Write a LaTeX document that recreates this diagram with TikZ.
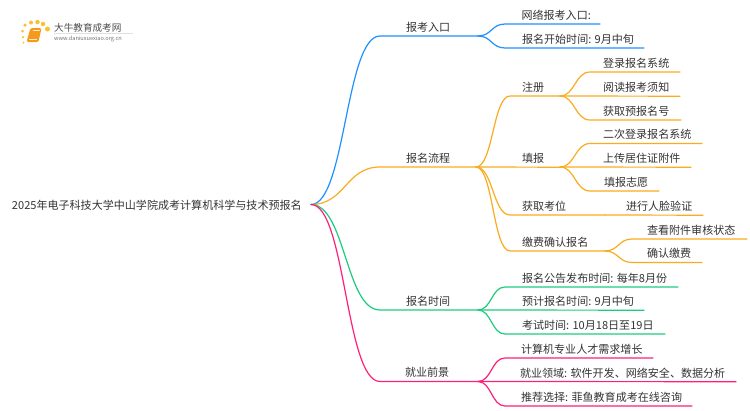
\documentclass[tikz,border=0pt]{standalone}
\usepackage{fontspec}
\usetikzlibrary{calc}
\setmainfont{Noto Sans CJK SC}
\definecolor{cblue}{HTML}{1E90FF}
\definecolor{corange}{HTML}{FAAB20}
\definecolor{cgreen}{HTML}{1DCB7E}
\definecolor{cpink}{HTML}{FF1E78}
\definecolor{ctext}{HTML}{333333}
\definecolor{cdot}{HTML}{FBC02D}
\definecolor{cbook}{HTML}{F59A1B}
\tikzset{
  lab/.style={anchor=west,inner sep=0pt,outer sep=0pt,text=ctext,font=\fontsize{11.05}{13}\selectfont},
  conn/.style={line width=1.2pt,line cap=round},
}
\begin{document}
\begin{tikzpicture}[x=1pt,y=-1pt]
\useasboundingbox (0,0) rectangle (750,410);
% logo
\foreach \n/\p/\s in {a/{25,25}/3.5,b/{31,22.5}/4,c/{37.5,22}/4.5,d/{43,24}/4.5,e/{47.5,29}/5,f/{22.5,31}/3,g/{23,37}/2.5,h/{23.5,42.5}/2}
  \node[circle,fill=cdot,inner sep=0pt,minimum size=\s pt] (logo\n) at (\p) {};
\fill[cbook,rounded corners=1.5pt] (30.5,28) -- (41.5,28) -- (38.5,42) -- (26.5,42) -- cycle;
\draw[white!80!cbook,line width=.5pt] (32.5,30.5) -- (39.5,30.5) (28.5,39.5) -- (36.5,39.5);
\node[inner sep=0pt,anchor=west,text=black!70,font=\fontsize{9.6}{11}\selectfont] (logotitle) at (54,27.5) {大牛教育成考网};
\node[inner sep=0pt,anchor=west,text=black!55,font=\fontsize{5.6}{7}\selectfont] (logourl) at (54,38.5) {www.daniuxuexiao.org.cn};
\draw[black!12,line width=.5pt] (54,33.5) -- (133,33.5);
% text nodes
\node[lab] (root) at (12,205) {2025年电子科技大学中山学院成考计算机科学与技术预报名};
\coordinate (r) at (311,204.5);
\node[lab] (n1) at (406,27) {报考入口};
\node[lab] (n2) at (406,158) {报名流程};
\node[lab] (n3) at (406,301) {报名时间};
\node[lab] (n4) at (405,372.5) {就业前景};
\node[lab] (n11) at (521.5,15) {网络报考入口:};
\node[lab] (n12) at (522,39) {报名开始时间: 9月中旬};
\node[lab] (n21) at (522,87) {注册};
\node[lab] (n22) at (522,158) {填报};
\node[lab] (n23) at (522,206) {获取考位};
\node[lab] (n24) at (522,242) {缴费确认报名};
\node[lab] (n211) at (603,63) {登录报名系统};
\node[lab] (n212) at (603,87) {阅读报考须知};
\node[lab] (n213) at (603,111) {获取预报名号};
\node[lab] (n221) at (603,134.5) {二次登录报名系统};
\node[lab] (n222) at (603,158) {上传居住证附件};
\node[lab] (n223) at (604,182) {填报志愿};
\node[lab] (n231) at (626,206) {进行人脸验证};
\node[lab] (n241) at (647,230) {查看附件审核状态};
\node[lab] (n242) at (647,253.5) {确认缴费};
\node[lab] (n31) at (522,278) {报名公告发布时间: 每年8月份};
\node[lab] (n32) at (522,301) {预计报名时间: 9月中旬};
\node[lab] (n33) at (522,325) {考试时间: 10月18日至19日};
\node[lab] (n41) at (521,349) {计算机专业人才需求增长};
\node[lab] (n42) at (520,373) {就业领域: 软件开发、网络安全、数据分析};
\node[lab] (n43) at (521,397.5) {推荐选择: 菲鱼教育成考在线咨询};
% line coordinates: start and end of each underline
\foreach \n/\a/\b/\y in {1/380/478/36,2/380/476/167,3/380/478/310,4/380/478/381.5,
  11/505/600/24,12/505/644/48,21/510/560/96,22/510/560/167,23/510/605/215,24/510/605/251,
  211/590/680/72,212/590/680/96,213/590/681/120,221/590/702/143.5,222/590/691/167,223/590/659/191,
  241/632/747/239,242/632/702/262.5,
  31/505/678/287,32/505/644/310,33/505/665/334,41/505/653/358,42/505/736/381.5,43/505/692/406}{
  \coordinate (s\n) at (\a,\y);
  \coordinate (e\n) at (\b,\y);
}
\coordinate (e231) at (703,215);
% level one
\foreach \n/\c in {1/cblue,2/corange,3/cgreen,4/cpink}{
  \coordinate (m) at ($(r)!.5!(s\n)$);
  \draw[conn,\c] (r) .. controls (m|-r) and (m|-s\n) .. (s\n) -- (e\n);
}
% level two and three: bending branches
\foreach \p/\n/\c in {1/11/cblue,1/12/cblue,2/21/corange,2/23/corange,2/24/corange,
   21/211/corange,21/213/corange,22/221/corange,22/223/corange,24/241/corange,24/242/corange,
   3/31/cgreen,3/33/cgreen,4/41/cpink,4/43/cpink}{
  \coordinate (m) at ($(e\p)!.5!(s\n)$);
  \draw[conn,\c] (e\p) .. controls (m|-e\p) and (m|-s\n) .. (s\n) -- (e\n);
}
% straight branches
\foreach \p/\n/\c in {2/22/corange,21/212/corange,22/222/corange,23/231/corange,3/32/cgreen,4/42/cpink}{
  \draw[conn,\c] (e\p) -- ($(e\n)+(0,0.2)$);
}
\end{tikzpicture}
\end{document}
